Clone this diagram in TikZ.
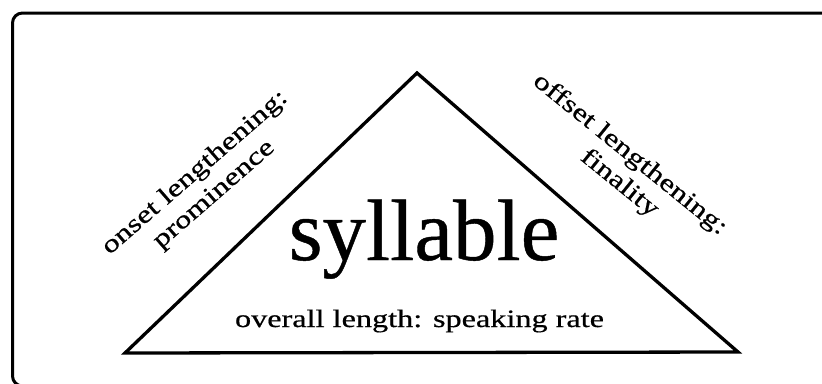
\documentclass[tikz,border=0pt]{standalone}
\usepackage{graphicx}
\usepackage{fontspec}
\setmainfont{Liberation Serif}
\newfontfamily\scanfont{Liberation Serif}[FakeBold=0.5]
\newcommand{\wide}[1]{\scalebox{1.29}[1]{#1}}
\tikzset{
  frame/.style={line width=3pt, rounded corners=10pt},
  tri/.style={line width=3.3pt, line join=miter},
  big/.style={font=\scanfont\fontsize{87}{90}\selectfont, inner sep=0pt},
  lbl/.style={font=\scanfont\fontsize{25}{29}\selectfont, align=center, inner sep=0pt},
}
\begin{document}
\begin{tikzpicture}[x=1pt, y=-1pt]
\useasboundingbox (0,0) rectangle (822,383);

% outer frame, right and bottom edges fall off the page
\draw[frame] (12.5,13) rectangle (840,386);

% the triangle
\coordinate (apex) at (417,73);
\coordinate (left) at (125,353);
\coordinate (right) at (738,352);
\draw[tri] (left) -- (apex) -- (right) -- cycle;

% labels
\node[big, anchor=base] (syl) at (424,260) {syllable};
\node[lbl, anchor=base] (rate) at (419.5,327) {\wide{overall length: speaking rate}};
\node[lbl, rotate=41] (onset) at (204.7,183.8) {\wide{onset lengthening:}\\ \wide{prominence}};
\node[lbl, rotate=-39] (offset) at (620.7,166.1) {\wide{offset lengthening:}\\ \hspace*{20pt}\wide{finality}};
\end{tikzpicture}
\end{document}
